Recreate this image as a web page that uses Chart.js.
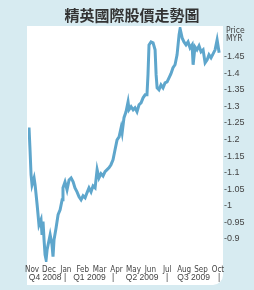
<!DOCTYPE html>
<html>
<head>
<meta charset="utf-8">
<script src="https://cdn.jsdelivr.net/npm/chart.js@4"></script>
<style>
  html, body { margin: 0; padding: 0; background: #d7ebf1; }
  canvas { display: block; }
</style>
</head>
<body>
<canvas id="priceChart" width="254" height="290"></canvas>
<script>
// month ticks on x (index 0 = Nov 2008)
const monthLabels = ['Nov', 'Dec', 'Jan', 'Feb', 'Mar', 'Apr', 'May', 'Jun', 'Jul', 'Aug', 'Sep', 'Oct'];
const quarterLabels = ['Q4 2008', '|', 'Q1 2009', '|', 'Q2 2009', '|', 'Q3 2009', '|'];
const quarterAt = [0.77, 1.95, 3.40, 4.79, 6.51, 7.99, 9.56, 11.07];
const yTicks = [0.9, 0.95, 1, 1.05, 1.1, 1.15, 1.2, 1.25, 1.3, 1.35, 1.4, 1.45];

// trading time in months since start of Nov 2008
const tradeMonth = [
  -0.24, -0.18, -0.12, -0.06, 0.00, 0.12, 0.18, 0.30, 0.41, 0.53, 0.59, 0.65, 0.71, 0.77, 0.83, 0.89, 0.95,
  1.07, 1.18, 1.24, 1.30, 1.42, 1.54, 1.66, 1.78, 1.83, 1.95, 2.07, 2.19, 2.31, 2.43, 2.54, 2.66, 2.78, 2.90,
  3.02, 3.14, 3.25, 3.37, 3.49, 3.61, 3.73, 3.85, 3.96, 4.08, 4.20, 4.32, 4.44, 4.56, 4.67, 4.79, 4.91,
  5.03, 5.15, 5.27, 5.33, 5.44, 5.56, 5.68, 5.74, 5.86, 5.98, 6.09, 6.21, 6.33, 6.45, 6.57, 6.69, 6.80, 6.86, 6.92,
  7.04, 7.16, 7.28, 7.34, 7.40, 7.51, 7.63, 7.75, 7.87, 7.99, 8.11, 8.22, 8.34, 8.46, 8.58, 8.70, 8.76, 8.88, 8.99,
  9.11, 9.23, 9.35, 9.47, 9.53, 9.64, 9.76, 9.88, 10.00, 10.12, 10.24, 10.36, 10.47, 10.59, 10.71, 10.83, 10.95, 11.07
];
// share price, MYR
const prices = [
  1.214, 1.236, 1.169, 1.094, 1.063, 1.084, 1.063, 1.003, 0.942, 0.958, 0.912, 0.952, 0.897, 0.852, 0.837, 0.867, 0.882,
  0.912, 0.882, 0.846, 0.897, 0.933, 0.973, 0.988, 1.018, 1.054, 1.072, 1.048, 1.078, 1.084, 1.072, 1.054, 1.042, 1.027, 1.018,
  1.030, 1.024, 1.039, 1.054, 1.042, 1.060, 1.054, 1.109, 1.084, 1.097, 1.090, 1.103, 1.109, 1.115, 1.124, 1.139, 1.169,
  1.199, 1.208, 1.236, 1.220, 1.266, 1.284, 1.314, 1.290, 1.299, 1.290, 1.296, 1.284, 1.305, 1.311, 1.326, 1.335, 1.335, 1.396, 1.486,
  1.495, 1.492, 1.471, 1.396, 1.356, 1.350, 1.365, 1.356, 1.371, 1.374, 1.387, 1.399, 1.417, 1.426, 1.456, 1.517, 1.535, 1.507, 1.495,
  1.486, 1.495, 1.477, 1.486, 1.426, 1.480, 1.471, 1.483, 1.465, 1.471, 1.432, 1.441, 1.456, 1.447, 1.459, 1.471, 1.501, 1.462
];

const narrow = "'Liberation Sans Narrow', 'DejaVu Sans', sans-serif";

const paper = {
  id: 'paper',
  beforeDraw(chart) {
    const c = chart.ctx;
    c.save();
    c.fillStyle = '#d7ebf1';
    c.fillRect(0, 0, chart.width, chart.height);
    c.fillStyle = '#ffffff';
    c.beginPath();
    c.roundRect(27, 26, 196, 259, [0, 0, 10, 0]);
    c.fill();
    c.restore();
  },
  afterDraw(chart) {
    const c = chart.ctx;
    const x = chart.scales.x;
    c.save();
    c.fillStyle = '#333333';
    c.textAlign = 'center';
    c.textBaseline = 'middle';
    c.font = "bold 15px 'Noto Sans CJK TC'";
    c.fillText('精英國際股價走勢圖', 132, 15);

    c.textAlign = 'left';
    c.fillStyle = '#444444';
    c.font = 'condensed 8.5px ' + narrow;
    c.fillText('Price', 226, 31);
    c.fillText('MYR', 226, 39);

    c.textAlign = 'center';
    c.font = "8.5px 'Liberation Sans', Arial, sans-serif";
    quarterLabels.forEach((q, i) => {
      c.fillText(q, x.getPixelForValue(quarterAt[i]), 277.5);
    });
    c.restore();
  }
};

new Chart(document.getElementById('priceChart'), {
  type: 'line',
  data: {
    datasets: [{
      data: tradeMonth.map((m, i) => ({ x: m, y: prices[i] })),
      borderColor: '#5ea6cc',
      borderWidth: 3,
      pointRadius: 0,
      tension: 0,
      fill: false
    }]
  },
  options: {
    responsive: false,
    animation: false,
    layout: { padding: { left: 28, top: 27, right: 0, bottom: 0 } },
    plugins: { legend: { display: false }, tooltip: { enabled: false } },
    scales: {
      x: {
        type: 'linear',
        min: -0.24,
        max: 11.18,
        grid: { display: false, drawTicks: false },
        border: { display: false },
        afterBuildTicks: s => { s.ticks = monthLabels.map((_, i) => ({ value: i })); },
        afterFit: s => { s.height = 28; },
        ticks: {
          autoSkip: false,
          maxRotation: 0,
          padding: 3,
          color: '#444444',
          font: { family: narrow, size: 8, weight: 'condensed' },
          callback: v => monthLabels[v]
        }
      },
      y: {
        position: 'right',
        min: 0.83,
        max: 1.54,
        grid: { display: false, drawTicks: false },
        border: { display: false },
        afterBuildTicks: s => { s.ticks = yTicks.map(v => ({ value: v })); },
        afterFit: s => { s.width = 33; },
        ticks: {
          padding: 3,
          color: '#444444',
          font: { family: "'Liberation Sans', Arial, sans-serif", size: 9 },
          callback: v => '-' + v
        }
      }
    }
  },
  plugins: [paper]
});
</script>
</body>
</html>
